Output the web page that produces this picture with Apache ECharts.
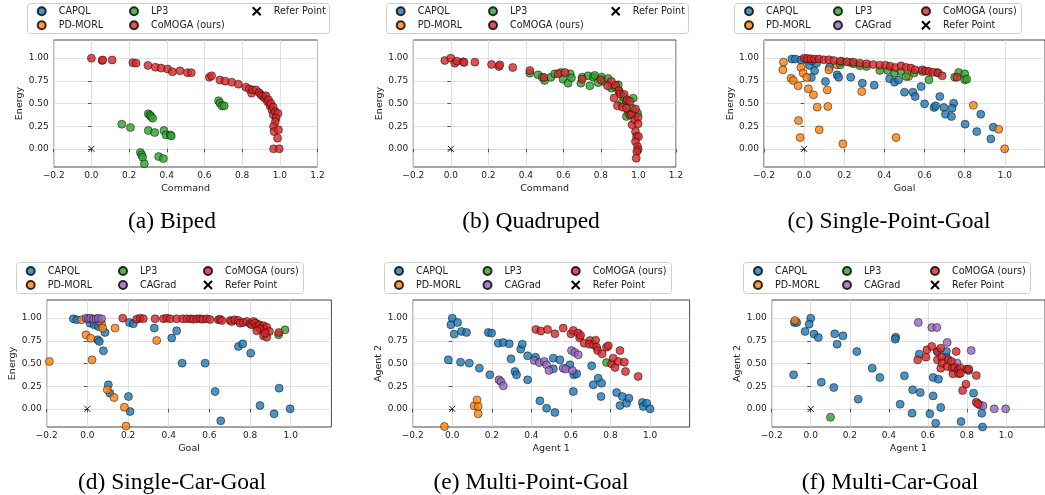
<!DOCTYPE html>
<html><head><meta charset="utf-8">
<script src="https://cdn.jsdelivr.net/npm/echarts@6/dist/echarts.min.js"></script>
<style>html,body{margin:0;padding:0;background:#fff}#c{width:1045px;height:495px}</style>
</head><body><div id="c"></div>
<script>
// ---- tick labels ----
const xTicksWide = [-0.2, 0, 0.2, 0.4, 0.6, 0.8, 1.0, 1.2];
const xTicksNarrow = [-0.2, 0, 0.2, 0.4, 0.6, 0.8, 1.0];
const yTicks = [0, 0.25, 0.5, 0.75, 1.0];
const methods = ['CAPQL', 'PD-MORL', 'LP3', 'CAGrad', 'CoMOGA (ours)', 'Refer Point'];
const referPoint = [[0, 0]];

// ---- (a) Biped ----
const bipedLP3 = [[0.161,0.272],[0.207,0.235],[0.302,0.386],[0.311,0.371],[0.316,0.357],[0.325,0.338],[0.302,0.202],[0.336,0.18],[0.385,0.202],[0.396,0.154],[0.419,0.154],[0.424,0.143],[0.26,-0.04],[0.267,-0.066],[0.272,-0.092],[0.281,-0.165],[0.357,-0.085],[0.382,-0.107],[0.675,0.53],[0.682,0.504],[0.693,0.474],[0.705,0.474]];
const bipedCoMOGA = [[0.0,1.0],[0.057,0.974],[0.06,0.98],[0.11,0.98],[0.22,0.95],[0.237,0.945],[0.30,0.92],[0.34,0.90],[0.37,0.89],[0.405,0.88],[0.43,0.85],[0.47,0.86],[0.51,0.84],[0.53,0.84],[0.626,0.79],[0.638,0.805],[0.682,0.76],[0.71,0.746],[0.745,0.735],[0.78,0.713],[0.82,0.68],[0.838,0.66],[0.85,0.614],[0.856,0.65],[0.873,0.65],[0.89,0.62],[0.90,0.596],[0.91,0.58],[0.919,0.56],[0.926,0.585],[0.935,0.52],[0.94,0.54],[0.948,0.474],[0.953,0.50],[0.958,0.43],[0.965,0.46],[0.965,0.375],[0.976,0.41],[0.99,0.39],[0.98,0.34],[0.976,0.30],[0.967,0.246],[0.97,0.19],[0.993,0.21],[0.988,0.118],[0.967,0.0],[0.997,0.0]];

// ---- (b) Quadruped ----
const quadLP3 = [[0.421,0.834],[0.465,0.816],[0.487,0.79],[0.5,0.754],[0.533,0.79],[0.554,0.827],[0.586,0.842],[0.598,0.768],[0.625,0.724],[0.636,0.827],[0.643,0.783],[0.693,0.724],[0.70,0.79],[0.732,0.805],[0.741,0.695],[0.759,0.79],[0.767,0.81],[0.785,0.73],[0.803,0.79],[0.817,0.743],[0.838,0.776],[0.856,0.669],[0.874,0.687],[0.892,0.706],[0.897,0.632],[0.918,0.577],[0.91,0.504],[0.936,0.522],[0.945,0.393],[0.966,0.449],[0.972,0.559],[0.995,0.393],[0.936,0.357]];
const quadCoMOGA = [[-0.032,0.974],[0,1.0],[0.021,0.945],[0.032,0.967],[0.066,0.96],[0.071,0.952],[0.128,0.956],[0.217,0.93],[0.256,0.908],[0.261,0.926],[0.33,0.897],[0.421,0.864],[0.496,0.787],[0.572,0.827],[0.608,0.842],[0.70,0.768],[0.80,0.761],[0.856,0.743],[0.835,0.695],[0.878,0.70],[0.895,0.643],[0.902,0.606],[0.924,0.60],[0.87,0.56],[0.94,0.54],[0.888,0.474],[0.915,0.46],[0.936,0.449],[0.954,0.522],[0.954,0.375],[0.963,0.375],[0.966,0.265],[0.98,0.32],[0.984,0.44],[0.998,0.35],[0.998,0.276],[0.984,0.19],[0.99,0.136],[1.0,0.136],[0.984,0.08],[0.995,0.026],[0.998,-0.01],[0.991,-0.03],[0.988,-0.103]];

// ---- (c) Single-Point-Goal ----
const spgCAPQL = [[-0.061,0.99],[-0.044,0.99],[-0.016,0.98],[0.016,0.974],[0.026,0.919],[0.041,0.97],[0.052,0.86],[0.036,0.787],[0.062,0.945],[0.106,0.743],[0.126,0.90],[0.164,0.816],[0.172,0.79],[0.232,0.79],[0.29,0.724],[0.349,0.702],[0.426,0.772],[0.45,0.735],[0.47,0.76],[0.50,0.625],[0.542,0.625],[0.553,0.577],[0.60,0.496],[0.583,0.687],[0.647,0.456],[0.655,0.474],[0.676,0.577],[0.696,0.456],[0.704,0.382],[0.734,0.357],[0.745,0.504],[0.737,0.449],[0.802,0.272],[0.86,0.19],[0.88,0.382],[0.93,0.11],[0.942,0.239]];
const spgPDMORL = [[-0.103,0.956],[-0.106,0.871],[-0.065,0.779],[-0.054,0.754],[-0.03,0.695],[-0.016,0.897],[-0.005,0.835],[0.013,0.787],[0.021,0.662],[0.046,0.596],[0.065,0.46],[0.115,0.65],[0.118,0.467],[0.123,0.871],[-0.028,0.3125],[-0.02,0.125],[0.075,0.21],[0.193,0.055],[0.287,0.632],[0.458,0.125],[0.52,0.798],[0.843,0.48],[0.969,0.217],[0.999,0.0],[0.164,0.926]];
const spgLP3 = [[0.18,0.926],[0.188,0.963],[0.23,0.952],[0.246,0.938],[0.278,0.915],[0.311,0.908],[0.377,0.864],[0.417,0.864],[0.45,0.835],[0.483,0.853],[0.508,0.798],[0.548,0.835],[0.589,0.853],[0.622,0.761],[0.663,0.842],[0.75,0.79],[0.77,0.842],[0.80,0.827],[0.80,0.761],[0.81,0.768]];
const spgCAGrad = [];
const spgCoMOGA = [[0,1.0],[0.016,0.996],[0.033,0.993],[0.052,0.99],[0.074,0.99],[0.098,0.982],[0.123,0.982],[0.147,0.974],[0.18,0.967],[0.213,0.96],[0.246,0.956],[0.278,0.945],[0.311,0.937],[0.344,0.93],[0.377,0.923],[0.406,0.923],[0.429,0.912],[0.455,0.897],[0.483,0.915],[0.508,0.897],[0.532,0.89],[0.553,0.871],[0.589,0.871],[0.606,0.857],[0.622,0.853],[0.642,0.845],[0.668,0.835],[0.688,0.805],[0.761,0.79]];

// ---- (d) Single-Car-Goal ----
const scgCAPQL = [[-0.069,0.993],[-0.052,0.982],[0.013,0.945],[0.034,0.926],[0.054,0.908],[0.051,0.761],[0.059,0.743],[0.079,0.64],[0.087,0.842],[0.103,0.265],[0.111,0.173],[0.202,0.136],[0.21,-0.029],[0.207,0.952],[0.226,0.938],[0.329,0.89],[0.439,0.86],[0.415,0.78],[0.466,0.504],[0.579,0.504],[0.628,0.191],[0.656,-0.132],[0.743,0.688],[0.764,0.717],[0.803,0.614],[0.849,0.037],[0.918,-0.055],[0.943,0.228],[0.997,0.0]];
const scgPDMORL = [[-0.187,0.522],[-0.007,0.816],[0.016,0.779],[0.023,0.54],[-0.028,0.982],[0.07,0.938],[0.075,0.89],[0.136,0.89],[0.341,0.754],[0.098,0.21],[0.131,0.125],[0.182,0.018],[0.19,-0.19],[0.057,0.971]];
const scgLP3 = [[0.94,0.816],[0.972,0.871],[0.833,0.938]];
const scgCAGrad = [[-0.007,1.0],[0.005,0.993],[0.016,1.0],[0.03,0.989],[0.043,0.993],[0.054,1.0],[0.07,0.993]];
const scgCoMOGA = [[0.174,1.0],[0.243,0.989],[0.259,1.0],[0.275,0.993],[0.333,0.993],[0.374,0.993],[0.39,1.0],[0.407,0.993],[0.439,0.993],[0.469,0.993],[0.489,0.993],[0.508,0.993],[0.521,0.989],[0.538,0.993],[0.554,0.993],[0.567,0.989],[0.587,0.993],[0.603,0.985],[0.644,0.982],[0.652,0.989],[0.661,0.974],[0.702,0.974],[0.71,0.963],[0.725,0.982],[0.743,0.974],[0.751,0.945],[0.767,0.952],[0.784,0.963],[0.80,0.938],[0.808,0.926],[0.817,0.963],[0.825,0.945],[0.833,0.908],[0.846,0.926],[0.857,0.89],[0.866,0.915],[0.874,0.871],[0.882,0.90],[0.895,0.853],[0.866,0.805],[0.882,0.79],[0.849,0.879],[0.833,0.86],[0.874,0.835],[0.941,0.842]];

// ---- (e) Multi-Point-Goal ----
const mpgCAPQL = [[0,1.0],[-0.007,0.926],[0.027,0.952],[0.01,0.824],[0.047,0.853],[0.072,0.842],[-0.02,0.54],[0.042,0.515],[0.086,0.504],[0.137,0.449],[0.19,0.375],[0.182,0.842],[0.199,0.835],[0.233,0.724],[0.258,0.731],[0.288,0.717],[0.297,0.551],[0.346,0.658],[0.354,0.713],[0.317,0.412],[0.325,0.375],[0.381,0.32],[0.381,0.585],[0.421,0.57],[0.443,0.088],[0.477,0.007],[0.519,-0.04],[0.511,0.559],[0.511,0.441],[0.544,0.54],[0.595,0.485],[0.615,0.375],[0.629,0.386],[0.612,0.191],[0.705,0.474],[0.713,0.265],[0.738,0.338],[0.755,0.283],[0.752,0.136],[0.831,0.18],[0.848,0.037],[0.86,0.136],[0.881,0.062],[0.893,0.118],[0.961,0.07],[0.966,0.026],[0.983,0.062],[1.0,0.0]];
const mpgPDMORL = [[-0.04,-0.195],[0.111,0.033],[0.125,0.099],[0.131,0.026],[0.131,-0.055]];
const mpgLP3 = [[0.78,0.511]];
const mpgCAGrad = [[0.236,0.32],[0.246,0.301],[0.258,0.254],[0.415,0.533],[0.44,0.51],[0.465,0.522],[0.477,0.485],[0.489,0.423],[0.561,0.449],[0.573,0.438],[0.607,0.423],[0.603,0.643],[0.62,0.621],[0.637,0.596]];
const mpgCoMOGA = [[0.423,0.875],[0.448,0.857],[0.482,0.875],[0.519,0.827],[0.561,0.89],[0.6,0.827],[0.612,0.864],[0.637,0.835],[0.644,0.783],[0.649,0.81],[0.667,0.724],[0.696,0.754],[0.693,0.713],[0.713,0.706],[0.725,0.757],[0.73,0.68],[0.735,0.643],[0.758,0.607],[0.78,0.68],[0.789,0.695],[0.805,0.496],[0.814,0.559],[0.823,0.456],[0.84,0.522],[0.848,0.643],[0.87,0.515],[0.876,0.412],[0.94,0.357]];

// ---- (f) Multi-Car-Goal ----
const mcgCAPQL = [[0,1.0],[-0.008,0.934],[-0.084,0.952],[-0.072,0.952],[-0.029,0.853],[0.017,0.824],[0.039,0.787],[-0.088,0.375],[0.054,0.294],[0.118,0.235],[0.123,0.827],[0.135,0.713],[0.165,0.805],[0.236,0.632],[0.243,0.107],[0.315,0.449],[0.354,0.346],[0.435,0.79],[0.433,0.768],[0.458,0.051],[0.48,0.364],[0.522,0.21],[0.519,-0.048],[0.556,0.603],[0.561,0.18],[0.61,-0.055],[0.627,0.143],[0.627,0.346],[0.64,-0.158],[0.654,0.327],[0.666,0.015],[0.649,0.632],[0.695,0.632],[0.695,0.566],[0.77,-0.14],[0.809,0.423],[0.834,0.173],[0.876,-0.048],[0.88,-0.2]];
const mcgPDMORL = [[-0.081,0.974]];
const mcgLP3 = [[-0.202,-0.176],[0.101,-0.092],[0.236,-0.213]];
const mcgCAGrad = [[0.551,0.952],[0.62,0.897],[0.646,0.897],[0.699,0.732],[0.822,0.643],[0.75,0.504],[0.865,0.044],[0.882,0.033],[0.94,0.0],[0.998,0.0]];
const mcgCoMOGA = [[0.548,0.54],[0.59,0.57],[0.595,0.651],[0.62,0.688],[0.649,0.632],[0.649,0.54],[0.666,0.669],[0.666,0.449],[0.671,0.57],[0.674,0.504],[0.699,0.467],[0.705,0.54],[0.721,0.522],[0.725,0.449],[0.728,0.386],[0.738,0.456],[0.745,0.632],[0.755,0.43],[0.758,0.386],[0.767,0.449],[0.767,0.393],[0.8,0.438],[0.809,0.438],[0.848,0.368],[0.795,0.272],[0.778,0.202],[0.848,0.074],[0.856,0.055]];

// ---- styles / layout ----
const colors = {'CAPQL':'#1f77b4','PD-MORL':'#ff7f0e','LP3':'#2ca02c','CAGrad':'#9467bd','CoMOGA (ours)':'#d62728','Refer Point':'#000'};
const crossPath = 'path://M0,0L10,10M10,0L0,10';

const panels = [
  {grid:{left:53.7,top:40,width:263.8,height:127}, xTicks:xTicksWide, xName:'Command', yName:'Energy', caption:'(a) Biped', cap:[172,220],
   frame:[27,3,302,30], ltop:5.3, cols:[57.7,150,272.7], lcols:[['CAPQL','PD-MORL'],['LP3','CoMOGA (ours)'],['Refer Point']],
   data:[['LP3',bipedLP3],['CoMOGA (ours)',bipedCoMOGA],['Refer Point',referPoint]]},
  {grid:{left:413.3,top:40,width:262.7,height:127}, xTicks:xTicksWide, xName:'Command', yName:'Energy', caption:'(b) Quadruped', cap:[531,220],
   frame:[386,3,302,30], ltop:5.3, cols:[416.7,509,631.7], lcols:[['CAPQL','PD-MORL'],['LP3','CoMOGA (ours)'],['Refer Point']],
   data:[['LP3',quadLP3],['CoMOGA (ours)',quadCoMOGA],['Refer Point',referPoint]]},
  {grid:{left:764,top:40,width:285,height:127}, xTicks:xTicksNarrow, xName:'Goal', yName:'Energy', caption:'(c) Single-Point-Goal', cap:[889,220],
   frame:[734,3,287,30], ltop:5.3, cols:[765,854,942], lcols:[['CAPQL','PD-MORL'],['LP3','CAGrad'],['CoMOGA (ours)','Refer Point']],
   data:[['CAPQL',spgCAPQL],['PD-MORL',spgPDMORL],['LP3',spgLP3],['CAGrad',spgCAGrad],['CoMOGA (ours)',spgCoMOGA],['Refer Point',referPoint]]},
  {grid:{left:46.7,top:300,width:284.7,height:127}, xTicks:xTicksNarrow, xName:'Goal', yName:'Energy', caption:'(d) Single-Car-Goal', cap:[172,481],
   frame:[16,262,287,31], ltop:265, cols:[46.7,139,224], lcols:[['CAPQL','PD-MORL'],['LP3','CAGrad'],['CoMOGA (ours)','Refer Point']],
   data:[['CAPQL',scgCAPQL],['PD-MORL',scgPDMORL],['LP3',scgLP3],['CAGrad',scgCAGrad],['CoMOGA (ours)',scgCoMOGA],['Refer Point',referPoint]]},
  {grid:{left:412.7,top:300,width:276.9,height:127}, xTicks:xTicksNarrow, xName:'Agent 1', yName:'Agent 2', caption:'(e) Multi-Point-Goal', cap:[531,481],
   frame:[384,262,287,31], ltop:265, cols:[415,503.5,591.7], lcols:[['CAPQL','PD-MORL'],['LP3','CAGrad'],['CoMOGA (ours)','Refer Point']],
   data:[['CAPQL',mpgCAPQL],['PD-MORL',mpgPDMORL],['LP3',mpgLP3],['CAGrad',mpgCAGrad],['CoMOGA (ours)',mpgCoMOGA],['Refer Point',referPoint]]},
  {grid:{left:771.7,top:300,width:276.8,height:127}, xTicks:xTicksNarrow, xName:'Agent 1', yName:'Agent 2', caption:'(f) Multi-Car-Goal', cap:[890,481],
   frame:[743,262,287,31], ltop:265, cols:[774,863,951], lcols:[['CAPQL','PD-MORL'],['LP3','CAGrad'],['CoMOGA (ours)','Refer Point']],
   data:[['CAPQL',mcgCAPQL],['PD-MORL',mcgPDMORL],['LP3',mcgLP3],['CAGrad',mcgCAGrad],['CoMOGA (ours)',mcgCoMOGA],['Refer Point',referPoint]]}
];

const FONT = 'DejaVu Sans';
const fmtX = v => (Math.abs(v) < 1e-9 ? '0.0' : v.toFixed(1)).replace('-', '\u2212');
const fmtY = v => (Math.abs(v) < 1e-9 ? '0.00' : v.toFixed(2)).replace('-', '\u2212');

const grids = [], xAxes = [], yAxes = [], series = [], legends = [], graphics = [];
panels.forEach((p, i) => {
  grids.push(Object.assign({show:true, borderColor:'#333', borderWidth:0.9, backgroundColor:'#fff'}, p.grid));
  xAxes.push({type:'value', gridIndex:i, min:-0.2, max:1.2, name:p.xName, nameLocation:'middle', nameGap:16.5,
    nameTextStyle:{fontFamily:FONT, fontSize:9.5, color:'#222'},
    axisLine:{show:false}, axisTick:{show:true, inside:false, length:3.5, lineStyle:{color:'#333', width:0.8}, customValues:p.xTicks},
    axisLabel:{customValues:p.xTicks, formatter:fmtX, fontFamily:FONT, fontSize:9, color:'#222', margin:4.5},
    splitLine:{show:true, lineStyle:{color:'#d9d9d9', width:0.8}}});
  yAxes.push({type:'value', gridIndex:i, min:-0.2, max:1.2, name:p.yName, nameLocation:'middle', nameGap:26, nameRotate:90,
    nameTextStyle:{fontFamily:FONT, fontSize:9.5, color:'#222'},
    axisLine:{show:false}, axisTick:{show:true, inside:false, length:3.5, lineStyle:{color:'#333', width:0.8}, customValues:yTicks},
    axisLabel:{customValues:yTicks, formatter:fmtY, fontFamily:FONT, fontSize:9, color:'#222', margin:5},
    splitLine:{show:true, lineStyle:{color:'#d9d9d9', width:0.8}}});
  p.data.forEach(([name, arr]) => {
    const isRef = name === 'Refer Point';
    series.push({type:'scatter', name, xAxisIndex:i, yAxisIndex:i, data:arr,
      symbol: isRef ? crossPath : 'circle', symbolSize: isRef ? 6 : 8,
      itemStyle: isRef ? {color:'#000', borderColor:'#000', borderWidth:0.9, opacity:1}
                       : {color:colors[name], borderColor:'#000', borderWidth:0.6, opacity:0.8},
      emphasis:{disabled:true}, z:2});
  });
  p.lcols.forEach((names, c) => {
    legends.push({orient:'vertical', left:p.cols[c] - 21, top:p.ltop, padding:0, itemGap:2, itemWidth:8, itemHeight:8,
      selectedMode:false, data:names, textStyle:{fontFamily:FONT, fontSize:9.6, color:'#222', lineHeight:12, padding:[0,0,0,8]}});
  });
  graphics.push({type:'rect', z:1, shape:{x:p.frame[0]+0.5, y:p.frame[1]+0.5, width:p.frame[2], height:p.frame[3], r:3},
    style:{fill:'rgba(255,255,255,0.8)', stroke:'#cfcfcf', lineWidth:1}});
  graphics.push({type:'text', z:1, x:p.cap[0], y:p.cap[1] + 1.5, style:{text:p.caption, fontFamily:'Liberation Serif', fontSize:23.5,
    fill:'#000', align:'center', verticalAlign:'middle'}});
});

const chart = echarts.init(document.getElementById('c'), null, {renderer:'canvas'});
chart.setOption({animation:false, grid:grids, xAxis:xAxes, yAxis:yAxes, series, legend:legends, graphic:graphics});
</script>
</body></html>
